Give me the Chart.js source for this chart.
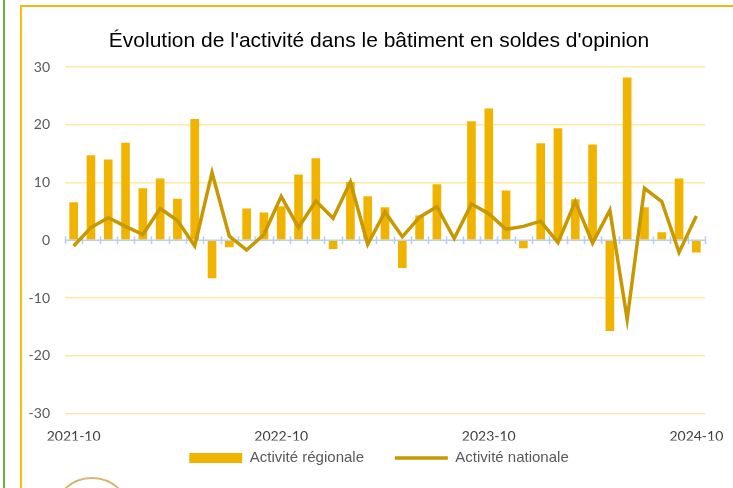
<!DOCTYPE html>
<html>
<head>
<meta charset="utf-8">
<script src="https://cdn.jsdelivr.net/npm/chart.js@4"></script>
<style>
  html, body { margin: 0; padding: 0; background: #fff; }
  #wrap { position: relative; width: 733px; height: 488px; overflow: hidden; }
  .green { position: absolute; left: 3px; top: 0; width: 2px; height: 488px; background: #70ad47; }
  .orangeV { position: absolute; left: 20px; top: 5px; width: 2px; height: 483px; background: #ffc000; }
  .orangeH { position: absolute; left: 20px; top: 5px; width: 713px; height: 2px; background: #f2b51c; }
  .logo { position: absolute; left: 52px; top: 477px; width: 80px; height: 80px; border-radius: 50%; border: 2px solid #d8b46e; box-sizing: border-box; }
  canvas { position: absolute; left: 0; top: 0; }
</style>
</head>
<body>
<div id="wrap">
  <div class="green"></div>
  <div class="orangeV"></div>
  <div class="orangeH"></div>
  <div class="logo"></div>
  <canvas id="chart" width="733" height="488"></canvas>
</div>
<script>
// months from 2021-10 to 2024-10
const months = [
  '2021-10', '2021-11', '2021-12',
  '2022-01', '2022-02', '2022-03', '2022-04', '2022-05', '2022-06',
  '2022-07', '2022-08', '2022-09', '2022-10', '2022-11', '2022-12',
  '2023-01', '2023-02', '2023-03', '2023-04', '2023-05', '2023-06',
  '2023-07', '2023-08', '2023-09', '2023-10', '2023-11', '2023-12',
  '2024-01', '2024-02', '2024-03', '2024-04', '2024-05', '2024-06',
  '2024-07', '2024-08', '2024-09', '2024-10'
];

// soldes d'opinion
const regionale = [
  6.6, 14.7, 14.0, 16.9, 9.0, 10.7, 7.2, 21.0, -6.6, -1.2, 5.5, 4.8,
  5.9, 11.4, 14.2, -1.5, 10.1, 7.6, 5.7, -4.8, 4.3, 9.7, 0, 20.6,
  22.8, 8.6, -1.4, 16.8, 19.4, 7.1, 16.6, -15.7, 28.2, 5.7, 1.4, 10.7, -2.1
];
const nationale = [
  -1.0, 2.2, 3.9, 2.4, 1.0, 5.5, 3.4, -1.0, 11.7, 0.7, -1.7, 1.0,
  7.6, 2.2, 6.8, 3.8, 10.1, -0.7, 4.9, 0.6, 4.0, 5.8, 0.3, 6.3,
  4.6, 1.9, 2.4, 3.3, -0.4, 6.7, -0.5, 5.2, -13.7, 9.0, 6.7, -2.1, 4.2
];

const yTicks = [-30, -20, -10, 0, 10, 20, 30];
const shownLabels = ['2021-10', '2022-10', '2023-10', '2024-10'];

// zero axis with small cross ticks, drawn between the bars and the line
const zeroAxis = {
  id: 'zeroAxis',
  beforeDatasetDraw(chart, args) {
    if (args.index !== 1) return;
    const { ctx, chartArea, scales: { x, y } } = chart;
    const y0 = y.getPixelForValue(0);
    ctx.save();
    ctx.strokeStyle = 'rgba(170, 200, 235, 0.85)';
    ctx.lineWidth = 1.5;
    ctx.beginPath();
    ctx.moveTo(chartArea.left, y0);
    ctx.lineTo(chartArea.right, y0);
    for (let i = 0; i <= months.length; i++) {
      const px = Math.round(x.getPixelForValue(i - 0.5)) + 0.5;
      ctx.moveTo(px, y0 - 4);
      ctx.lineTo(px, y0 + 4);
    }
    ctx.stroke();
    ctx.restore();
  }
};

const ctx = document.getElementById('chart').getContext('2d');
new Chart(ctx, {
  data: {
    labels: months,
    datasets: [
      {
        type: 'bar',
        label: 'Activité régionale',
        data: regionale,
        backgroundColor: '#f0b400',
        borderWidth: 0,
        barPercentage: 0.5,
        categoryPercentage: 1,
        pointStyle: 'rect',
        order: 1
      },
      {
        type: 'line',
        label: 'Activité nationale',
        data: nationale,
        borderColor: '#c89800',
        backgroundColor: '#c89800',
        borderWidth: 3.5,
        pointRadius: 0,
        tension: 0,
        pointStyle: 'line',
        order: 0
      }
    ]
  },
  options: {
    responsive: false,
    animation: false,
    layout: { autoPadding: false, padding: { left: 25, right: 0, top: 0, bottom: 12.5 } },
    plugins: {
      title: {
        display: true,
        text: "Évolution de l'activité dans le bâtiment en soldes d'opinion",
        color: '#000',
        font: { family: 'Liberation Sans', size: 21, weight: 'normal', lineHeight: 1.2 },
        padding: { top: 29, bottom: 12.8 }
      },
      legend: {
        position: 'bottom',
        labels: {
          usePointStyle: true,
          pointStyleWidth: 53,
          boxHeight: 10,
          padding: 10,
          color: '#595959',
          font: { family: 'Liberation Sans', size: 15 },
          sort: (a, b) => a.datasetIndex - b.datasetIndex,
          generateLabels(chart) {
            const items = Chart.defaults.plugins.legend.labels.generateLabels(chart);
            // wider gap after the first entry
            items.forEach(it => { if (it.datasetIndex === 0) it.text += '     '; });
            return items;
          }
        }
      },
      tooltip: { enabled: false }
    },
    scales: {
      x: {
        grid: {
          display: true,
          drawOnChartArea: false,
          drawTicks: true,
          tickLength: 16,
          color: 'rgba(0,0,0,0)',
          tickColor: 'rgba(0,0,0,0)'
        },
        border: { display: false },
        ticks: {
          autoSkip: false,
          maxRotation: 0,
          padding: 0,
          color: '#404040',
          font: { family: 'Lato', size: 14, lineHeight: 1 },
          callback(value) {
            const m = months[value];
            return shownLabels.includes(m) ? m : '';
          }
        },
        afterFit(scale) { scale.height = 27; }
      },
      y: {
        min: -30,
        max: 30,
        afterBuildTicks(scale) { scale.ticks = yTicks.map(v => ({ value: v })); },
        grid: {
          drawTicks: false,
          lineWidth: 1.5,
          color: c => (c.tick && c.tick.value === 0 ? 'rgba(0,0,0,0)' : '#ffe9a6')
        },
        border: { display: false },
        ticks: {
          padding: 15,
          color: '#595959',
          font: { family: 'Lato', size: 14 }
        },
        afterFit(scale) { scale.width = 40; }
      },
      yRight: {
        position: 'right',
        grid: { display: false, drawTicks: false },
        border: { display: false },
        ticks: { display: false },
        afterFit(scale) { scale.width = 28; }
      }
    }
  },
  plugins: [zeroAxis]
});
</script>
</body>
</html>
